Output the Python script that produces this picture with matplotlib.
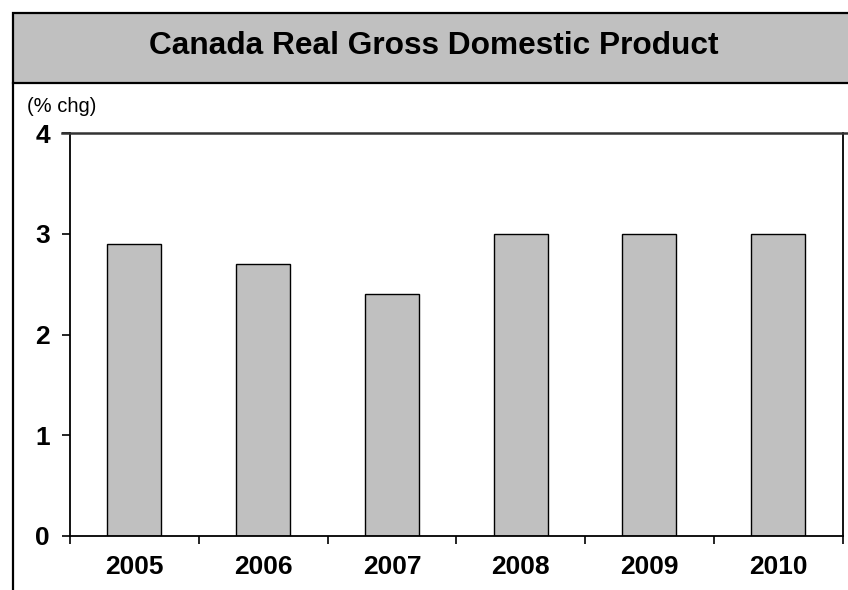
import matplotlib.pyplot as plt
from matplotlib.patches import Rectangle
from matplotlib.lines import Line2D

years = ["2005", "2006", "2007", "2008", "2009", "2010"]
gdp_growth = [2.9, 2.7, 2.4, 3.0, 3.0, 3.0]
y_ticks = [0, 1, 2, 3, 4]

plt.rcParams["font.family"] = ["Liberation Sans", "DejaVu Sans"]

W, H = 848, 590
fig = plt.figure(figsize=(W / 100, H / 100), dpi=100)

# title banner with the frame line running down the left side
fig.patches.append(Rectangle((12.5 / W, 1 - 83 / H), 1, (83 - 13) / H,
                             transform=fig.transFigure, facecolor="#c0c0c0",
                             edgecolor="black", linewidth=1.6, zorder=0))
fig.lines.append(Line2D([12.5 / W, 12.5 / W], [0, 1 - 83 / H],
                        transform=fig.transFigure, color="black", linewidth=1.6))
fig.text(433.5 / W, 1 - 46 / H, "Canada Real Gross Domestic Product",
         ha="center", va="center", fontsize=22.8, fontweight="bold")
fig.text(27 / W, 1 - 106 / H, "(% chg)", ha="left", va="center", fontsize=14.5)

left, right = 70 / W, 842.5 / W
bottom, top = 1 - 535.7 / H, 1 - 133.3 / H
ax = fig.add_axes([left, bottom, right - left, top - bottom])

x = range(len(years))
ax.bar(x, gdp_growth, width=0.42, color="#c0c0c0", edgecolor="black",
       linewidth=1.0, zorder=2)

ax.set_ylim(0, 4)
ax.set_xlim(-0.5, len(years) - 0.5)
ax.set_yticks(y_ticks)
ax.set_yticklabels([str(v) for v in y_ticks], fontsize=19, fontweight="bold")

# ticks sit between the categories, labels at the centres
ax.set_xticks([i - 0.5 for i in range(len(years) + 1)])
ax.set_xticklabels([])
ax.set_xticks(list(x), minor=True)
ax.set_xticklabels(years, minor=True, fontsize=19, fontweight="bold")
ax.tick_params(axis="x", which="major", direction="out", length=6, width=1.2)
ax.tick_params(axis="x", which="minor", length=0, pad=14)
ax.tick_params(axis="y", direction="out", length=6, width=1.2, pad=8.5)

for side in ["left", "bottom", "right"]:
    ax.spines[side].set_linewidth(1.3)
ax.spines["top"].set_visible(False)
# top line at 4 runs out to the right edge
fig.lines.append(Line2D([62 / W, 1], [top, top], transform=fig.transFigure,
                        color="#333333", linewidth=1.8))

fig.savefig("out.png", dpi=100)
